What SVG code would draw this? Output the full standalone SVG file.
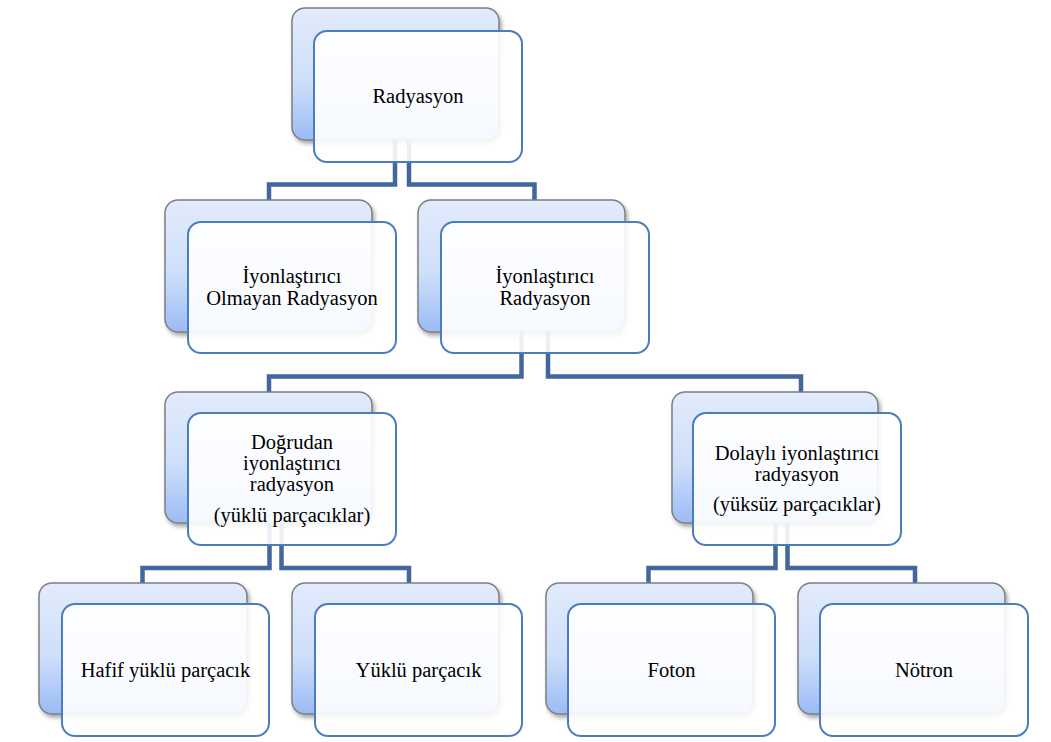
<svg xmlns="http://www.w3.org/2000/svg" width="1051" height="742" viewBox="0 0 1051 742">
<defs>
<linearGradient id="bg" x1="0" y1="0" x2="0" y2="1">
<stop offset="0" stop-color="#e2ebfc"/>
<stop offset="0.55" stop-color="#cfdffa"/>
<stop offset="1" stop-color="#9bbbf5"/>
</linearGradient>
<filter id="sh" x="-10%" y="-10%" width="125%" height="130%">
<feDropShadow dx="2" dy="3" stdDeviation="2" flood-color="#000" flood-opacity="0.35"/>
</filter>
</defs>
<style>
.back{fill:url(#bg);stroke:#7f7f7f;stroke-width:1.5;filter:url(#sh)}
.front{fill:#ffffff;fill-opacity:0.9;stroke:#4a7ebb;stroke-width:2}
.conn{fill:none;stroke:#41679c;stroke-width:4.5;stroke-linejoin:miter}
.t{font-family:'Liberation Serif','DejaVu Serif',serif;font-size:20.5px;fill:#000;text-anchor:middle}
</style>
<rect width="1051" height="742" fill="#ffffff"/>
<g id="connectors">
<path class="conn" d="M395,140 V184.5 H269 V200"/>
<path class="conn" d="M409,140 V184.5 H534.5 V200"/>
<path class="conn" d="M521.5,332 V376.5 H269 V392"/>
<path class="conn" d="M548,332 V376.5 H801 V392"/>
<path class="conn" d="M269.5,523 V568 H142.5 V583"/>
<path class="conn" d="M281.5,523 V568 H409 V583"/>
<path class="conn" d="M775.5,523 V568 H648.5 V583"/>
<path class="conn" d="M787.5,523 V568 H915 V583"/>
</g>
<g id="n-radyasyon">
<rect class="back" x="292" y="8" width="207" height="132" rx="13"/>
<rect class="front" x="314" y="31" width="208" height="131" rx="13"/>
<text class="t" font-family="Liberation Serif, serif" x="418" y="103">Radyasyon</text>
</g>
<g id="n-iyon-olmayan">
<rect class="back" x="165" y="200" width="207" height="132" rx="13"/>
<rect class="front" x="188" y="222" width="208" height="131" rx="13"/>
<text class="t" font-family="Liberation Serif, serif" x="292" y="283">İyonlaştırıcı</text>
<text class="t" font-family="Liberation Serif, serif" x="292" y="305">Olmayan Radyasyon</text>
</g>
<g id="n-iyon">
<rect class="back" x="418" y="200" width="207" height="132" rx="13"/>
<rect class="front" x="441" y="222" width="208" height="131" rx="13"/>
<text class="t" font-family="Liberation Serif, serif" x="545" y="283">İyonlaştırıcı</text>
<text class="t" font-family="Liberation Serif, serif" x="545" y="305">Radyasyon</text>
</g>
<g id="n-dogrudan">
<rect class="back" x="165" y="392" width="207" height="131" rx="13"/>
<rect class="front" x="188" y="413" width="208" height="132" rx="13"/>
<text class="t" font-family="Liberation Serif, serif" x="292" y="449">Doğrudan</text>
<text class="t" font-family="Liberation Serif, serif" x="292" y="470">iyonlaştırıcı</text>
<text class="t" font-family="Liberation Serif, serif" x="292" y="491">radyasyon</text>
<text class="t" font-family="Liberation Serif, serif" x="292" y="522">(yüklü parçacıklar)</text>
</g>
<g id="n-dolayli">
<rect class="back" x="672" y="392" width="206" height="131" rx="13"/>
<rect class="front" x="693" y="413" width="208" height="132" rx="13"/>
<text class="t" font-family="Liberation Serif, serif" x="797" y="460">Dolaylı iyonlaştırıcı</text>
<text class="t" font-family="Liberation Serif, serif" x="797" y="481">radyasyon</text>
<text class="t" font-family="Liberation Serif, serif" x="797" y="511">(yüksüz parçacıklar)</text>
</g>
<g id="n-hafif">
<rect class="back" x="39" y="583" width="208" height="131" rx="13"/>
<rect class="front" x="62" y="604" width="207" height="132" rx="13"/>
<text class="t" font-family="Liberation Serif, serif" x="165.5" y="677">Hafif yüklü parçacık</text>
</g>
<g id="n-yuklu">
<rect class="back" x="292" y="583" width="207" height="131" rx="13"/>
<rect class="front" x="315" y="604" width="207" height="132" rx="13"/>
<text class="t" font-family="Liberation Serif, serif" x="418.5" y="677">Yüklü parçacık</text>
</g>
<g id="n-foton">
<rect class="back" x="546" y="583" width="207" height="131" rx="13"/>
<rect class="front" x="568" y="604" width="207" height="132" rx="13"/>
<text class="t" font-family="Liberation Serif, serif" x="671.5" y="677">Foton</text>
</g>
<g id="n-notron">
<rect class="back" x="798" y="583" width="207" height="131" rx="13"/>
<rect class="front" x="820" y="604" width="208" height="132" rx="13"/>
<text class="t" font-family="Liberation Serif, serif" x="924" y="677">Nötron</text>
</g>
</svg>
